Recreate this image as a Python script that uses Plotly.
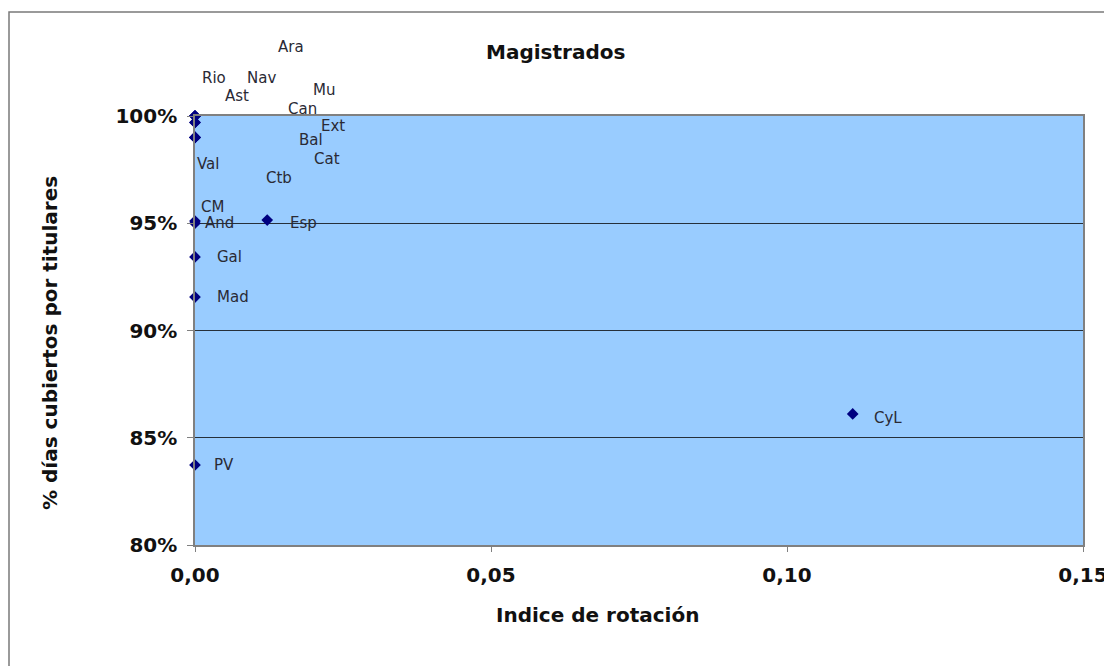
import plotly.graph_objects as go

# ---- data ----
regions = ["Ara", "Rio", "Nav", "Ast", "Mu", "Can", "Ext", "Bal", "Cat", "Ctb",
           "Val", "CM", "And", "Esp", "Gal", "Mad", "PV", "CyL"]
rotation_index = [0.0, 0.0, 0.0, 0.0, 0.0, 0.0, 0.0, 0.0, 0.0, 0.0,
                  0.0, 0.0, 0.0, 0.0122, 0.0, 0.0, 0.0, 0.1111]
pct_days_titular = [1.000, 1.000, 1.000, 1.000, 1.000, 0.997, 0.997, 0.990, 0.990, 0.990,
                    0.990, 0.951, 0.950, 0.9515, 0.9343, 0.9156, 0.8373, 0.8611]

# label placement (data coordinates of label centres, as dragged in the original)
label_x = [0.0162, 0.0032, 0.0113, 0.0071, 0.0218, 0.0181, 0.0233, 0.0196, 0.0223, 0.0142,
           0.0022, 0.0029, 0.0042, 0.0184, 0.0059, 0.0064, 0.0049, 0.1171]
label_y = [1.0322, 1.0177, 1.0177, 1.0093, 1.0121, 1.0033, 0.9953, 0.9886, 0.9800, 0.9711,
           0.9776, 0.9576, 0.9501, 0.9501, 0.9343, 0.9156, 0.8373, 0.8592]

title_text = "Magistrados"
x_title = "Indice de rotación"
y_title = "% días cubiertos por titulares"

X_RANGE = [0, 0.15]
Y_RANGE = [0.80, 1.00]

# ---- layout geometry (pixels in the screenshot; page body has an 8px margin) ----
OFF = 8
W, H = 1112 - OFF, 666 - OFF
PL, PR, PT, PB = 195 - OFF, 1083 - OFF, 116 - OFF, 545 - OFF


def px(x):
    return (x - OFF - PL) / (PR - PL)


def py(y):
    return (PB - (y - OFF)) / (PB - PT)


def dx(v):
    return (v - X_RANGE[0]) / (X_RANGE[1] - X_RANGE[0])


def dy(v):
    return (v - Y_RANGE[0]) / (Y_RANGE[1] - Y_RANGE[0])


FONT = "DejaVu Sans"

fig = go.Figure()
fig.add_trace(go.Scatter(
    x=rotation_index, y=pct_days_titular, mode="markers",
    marker=dict(symbol="diamond", size=9, color="#000080"),
    cliponaxis=False, hoverinfo="text", text=regions, showlegend=False,
))

annotations = []
for name, lx, ly in zip(regions, label_x, label_y):
    annotations.append(dict(x=dx(lx), y=dy(ly), xref="paper", yref="paper", text=name,
                            showarrow=False, xanchor="center", yanchor="middle",
                            font=dict(family=FONT, size=15, color="#2a2a35")))

annotations += [
    dict(x=px(555), y=py(52), xref="paper", yref="paper", text="<b>%s</b>" % title_text,
         showarrow=False, xanchor="center", yanchor="middle",
         font=dict(family=FONT, size=20, color="#111")),
    dict(x=px(597), y=py(615), xref="paper", yref="paper", text="<b>%s</b>" % x_title,
         showarrow=False, xanchor="center", yanchor="middle",
         font=dict(family=FONT, size=20, color="#111")),
    dict(x=px(50), y=py(343), xref="paper", yref="paper", text="<b>%s</b>" % y_title,
         showarrow=False, xanchor="center", yanchor="middle", textangle=-90,
         font=dict(family=FONT, size=20, color="#111")),
]

fig.update_layout(
    width=W, height=H, autosize=False,
    margin=dict(l=PL, r=W - PR, t=PT, b=H - PB, pad=0, autoexpand=False),
    paper_bgcolor="white", plot_bgcolor="#99CCFF",
    separators=",.",
    annotations=annotations,
    shapes=[dict(type="rect", xref="paper", yref="paper",
                 x0=px(9), x1=px(1130), y0=py(690), y1=py(12),
                 line=dict(color="#7a7a7a", width=1.5), fillcolor="rgba(0,0,0,0)", layer="below")],
    xaxis=dict(range=X_RANGE, dtick=0.05, tick0=0, tickformat=".2f",
               showgrid=False, zeroline=False, automargin=False,
               showline=True, linecolor="#808080", linewidth=1.5, mirror=True,
               ticks="outside", ticklen=5, tickcolor="#808080",
               ticklabelstandoff=6, ticklabeloverflow="allow",
               tickfont=dict(family=FONT, size=20, color="#111", weight="bold")),
    yaxis=dict(range=Y_RANGE, dtick=0.05, tick0=0.80, tickformat=".0%",
               showgrid=True, gridcolor="#26303a", gridwidth=1, zeroline=False, automargin=False,
               showline=True, linecolor="#808080", linewidth=1.5, mirror=True,
               ticks="outside", ticklen=6, tickcolor="#808080",
               ticklabelstandoff=6,
               tickfont=dict(family=FONT, size=20, color="#111", weight="bold")),
)

fig.write_html("out.html")
